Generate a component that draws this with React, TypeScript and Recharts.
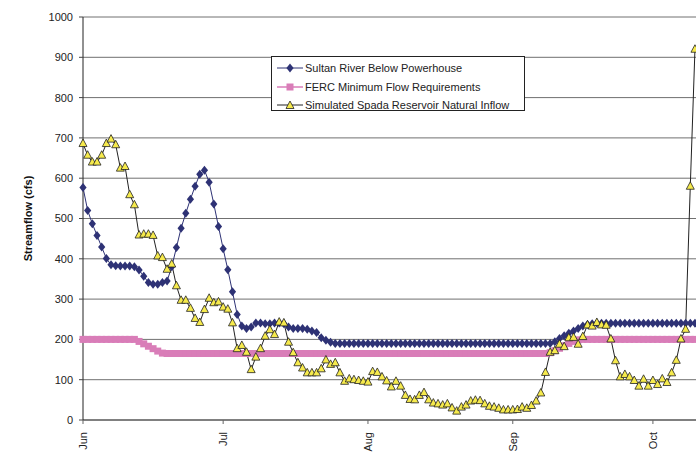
import { CartesianGrid, Label, Legend, Line, LineChart, XAxis, YAxis } from "recharts"

// day index 0 = Jun 1, one value per day
const monthTicks = [0, 30, 61, 92, 122]
const monthLabels = ["Jun", "Jul", "Aug", "Sep", "Oct"]
const yTicks = [0, 100, 200, 300, 400, 500, 600, 700, 800, 900, 1000]

const sultan = [
  577, 520, 487, 458, 429, 401, 385, 383, 382, 382,
  382, 380, 372, 357, 341, 337, 337, 341, 345, 380,
  428, 476, 513, 548, 580, 610, 620, 590, 536, 480,
  425, 373, 318, 262, 233, 227, 231, 241, 241, 239,
  239, 241, 241, 239, 231, 227, 227, 227, 225, 221,
  217, 204, 198, 193, 190, 190, 190, 190, 190, 190,
  190, 190, 190, 190, 190, 190, 190, 190, 190, 190,
  190, 190, 190, 190, 190, 190, 190, 190, 190, 190,
  190, 190, 190, 190, 190, 190, 190, 190, 190, 190,
  190, 190, 190, 190, 190, 190, 190, 190, 190, 190,
  190, 194, 202, 209, 215, 221, 227, 233, 237, 239,
  240, 240, 240, 240, 240, 240, 240, 240, 240, 240,
  240, 240, 240, 240, 240, 240, 240, 240, 240, 240,
  240, 240,
]

const ferc = [
  200, 200, 200, 200, 200, 200, 200, 200, 200, 200,
  200, 200, 195, 189, 183, 177, 171, 166, 165, 165,
  165, 165, 165, 165, 165, 165, 165, 165, 165, 165,
  165, 165, 165, 165, 165, 165, 165, 165, 165, 165,
  165, 165, 165, 165, 165, 165, 165, 165, 165, 165,
  165, 165, 165, 165, 165, 165, 165, 165, 165, 165,
  165, 165, 165, 165, 165, 165, 165, 165, 165, 165,
  165, 165, 165, 165, 165, 165, 165, 165, 165, 165,
  165, 165, 165, 165, 165, 165, 165, 165, 165, 165,
  165, 165, 165, 165, 165, 165, 165, 165, 165, 165,
  167, 172, 178, 184, 190, 195, 199, 200, 200, 200,
  200, 200, 200, 200, 200, 200, 200, 200, 200, 200,
  200, 200, 200, 200, 200, 200, 200, 200, 200, 200,
  200, 200,
]

const inflow = [
  686, 657, 640, 640, 657, 686, 697, 683, 625, 629,
  559, 534, 459, 461, 461, 458, 407, 403, 374, 387,
  333, 297, 297, 277, 252, 242, 274, 302, 291, 293,
  280, 275, 241, 177, 185, 168, 125, 156, 177, 208,
  224, 212, 243, 241, 193, 167, 142, 129, 117, 117,
  117, 127, 149, 138, 142, 117, 96, 102, 100, 98,
  96, 94, 120, 118, 107, 97, 82, 96, 84, 61,
  51, 50, 61, 68, 50, 42, 40, 37, 40, 30,
  22, 32, 37, 47, 49, 48, 40, 34, 32, 29,
  25, 25, 25, 26, 32, 29, 36, 47, 67, 118,
  168, 172, 188, 182, 204, 205, 188, 207, 236, 233,
  242, 236, 235, 201, 147, 107, 113, 107, 98, 84,
  101, 84, 98, 88, 102, 93, 117, 148, 201, 225,
  580, 920,
]

const data = sultan.map((s, i) => ({ day: i, sultan: s, ferc: ferc[i], inflow: inflow[i] }))

const NAVY = "#2E3275"
const PINK = "#D97DB8"
const YELLOW = "#F6EA4C"
const FONT = "'Liberation Sans', Arial, sans-serif"

const diamond = (cx: number, cy: number) =>
  `${cx},${cy - 4.5} ${cx + 3.6},${cy} ${cx},${cy + 4.5} ${cx - 3.6},${cy}`
const triangle = (cx: number, cy: number) =>
  `${cx},${cy - 4.5} ${cx + 4},${cy + 3} ${cx - 4},${cy + 3}`

function DiamondDot(props: any) {
  const { cx, cy, index } = props
  if (cx == null || cy == null) return <g key={`dm-${index}`} />
  return <polygon key={`dm-${index}`} points={diamond(cx, cy)} fill={NAVY} />
}

function SquareDot(props: any) {
  const { cx, cy, index } = props
  if (cx == null || cy == null) return <g key={`sq-${index}`} />
  return <rect key={`sq-${index}`} x={cx - 3.5} y={cy - 3.5} width={7} height={7} fill={PINK} />
}

function TriangleDot(props: any) {
  const { cx, cy, index } = props
  if (cx == null || cy == null) return <g key={`tr-${index}`} />
  return (
    <polygon
      key={`tr-${index}`}
      points={triangle(cx, cy)}
      fill={YELLOW}
      stroke="#222"
      strokeWidth={0.8}
    />
  )
}

function MonthTick(props: any) {
  const { x, y, payload } = props
  const i = monthTicks.indexOf(payload.value)
  return (
    <text
      x={x}
      y={y + 6}
      transform={`rotate(-90, ${x}, ${y + 6})`}
      textAnchor="end"
      dy="0.35em"
      fontSize={11}
      fontFamily={FONT}
      fill="#222"
    >
      {monthLabels[i]}
    </text>
  )
}

const legendItems = [
  { name: "Sultan River Below Powerhouse", color: NAVY, kind: "diamond" },
  { name: "FERC Minimum Flow Requirements", color: PINK, kind: "square" },
  { name: "Simulated Spada Reservoir Natural Inflow", color: "#222", kind: "triangle" },
]

function LegendBox() {
  return (
    <div
      style={{
        border: "1px solid #222",
        background: "#fff",
        width: 254,
        height: 55,
        boxSizing: "border-box",
        padding: "2px 0 0 5px",
        fontFamily: FONT,
        fontSize: 11,
        color: "#222",
      }}
    >
      {legendItems.map((it) => (
        <div key={it.name} style={{ display: "flex", alignItems: "center", height: 18.5 }}>
          <svg width={26} height={10} style={{ marginRight: 2 }}>
            {it.kind === "square" ? (
              <>
                <line x1={0} y1={5} x2={26} y2={5} stroke={PINK} strokeWidth={1.5} />
                <rect x={9.5} y={1.5} width={7} height={7} fill={PINK} />
              </>
            ) : (
              <>
                <line x1={0} y1={5} x2={26} y2={5} stroke={it.color} strokeWidth={1} />
                {it.kind === "diamond" ? (
                  <polygon points={diamond(13, 5)} fill={NAVY} />
                ) : (
                  <polygon points={triangle(13, 5.5)} fill={YELLOW} stroke="#222" strokeWidth={0.8} />
                )}
              </>
            )}
          </svg>
          <span>{it.name}</span>
        </div>
      ))}
    </div>
  )
}

export default function App() {
  return (
    <div
      style={{
        position: "fixed",
        left: 0,
        top: 0,
        width: 696,
        height: 457,
        overflow: "hidden",
        background: "#fff",
      }}
    >
      <LineChart
        width={740}
        height={457}
        data={data}
        margin={{ top: 17, right: 3, bottom: 0, left: 0 }}
      >
        <CartesianGrid vertical={false} stroke="#707070" strokeWidth={1} />
        <XAxis
          dataKey="day"
          type="number"
          domain={[0, 140]}
          ticks={monthTicks}
          tick={<MonthTick />}
          height={37}
          interval={0}
          axisLine={{ stroke: "#808080", strokeWidth: 2 }}
          tickLine={{ stroke: "#666" }}
          tickSize={4}
        />
        <YAxis
          type="number"
          domain={[0, 1000]}
          ticks={yTicks}
          interval={0}
          width={83}
          axisLine={{ stroke: "#222" }}
          tickLine={{ stroke: "#444" }}
          tickSize={4}
          tickMargin={6}
          tick={{ fontSize: 11, fontFamily: FONT, fill: "#222" }}
        >
          <Label
            value="Streamflow (cfs)"
            angle={-90}
            position="insideLeft"
            offset={28}
            style={{ fontSize: 11, fontWeight: "bold", fontFamily: FONT, fill: "#111", textAnchor: "middle" }}
          />
        </YAxis>
        <Legend
          layout="vertical"
          align="center"
          verticalAlign="middle"
          content={<LegendBox />}
          wrapperStyle={{ left: 271, top: 56, width: 256, height: 57 }}
        />
        <Line
          type="linear"
          dataKey="sultan"
          stroke={NAVY}
          strokeWidth={1}
          dot={DiamondDot}
          activeDot={false}
          isAnimationActive={false}
        />
        <Line
          type="linear"
          dataKey="ferc"
          stroke={PINK}
          strokeWidth={2}
          dot={SquareDot}
          activeDot={false}
          isAnimationActive={false}
        />
        <Line
          type="linear"
          dataKey="inflow"
          stroke="#222"
          strokeWidth={1}
          dot={TriangleDot}
          activeDot={false}
          isAnimationActive={false}
        />
      </LineChart>
    </div>
  )
}
